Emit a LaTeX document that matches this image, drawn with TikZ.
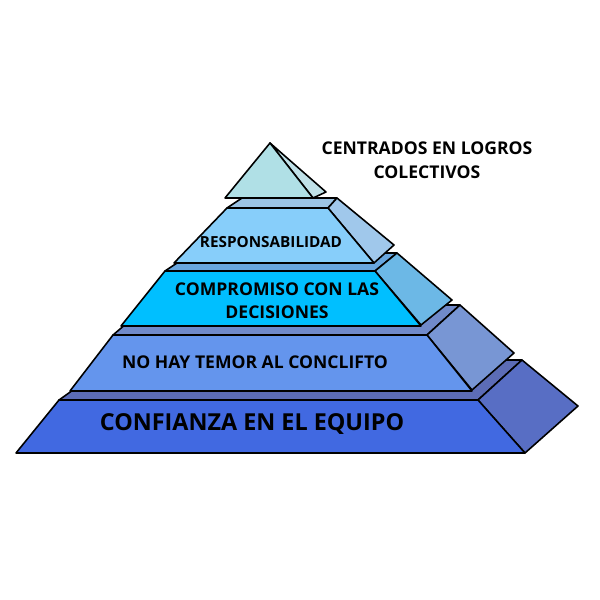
\documentclass[tikz,border=0pt]{standalone}
\usepackage{fontspec}
\setmainfont{Open Sans}
\definecolor{tierA}{RGB}{65,105,225}
\definecolor{tierAside}{RGB}{88,110,196}
\definecolor{tierAtop}{RGB}{92,108,182}
\definecolor{tierB}{RGB}{100,149,237}
\definecolor{tierBside}{RGB}{120,150,212}
\definecolor{tierBtop}{RGB}{112,138,202}
\definecolor{tierC}{RGB}{0,191,255}
\definecolor{tierCside}{RGB}{108,184,230}
\definecolor{tierCtop}{RGB}{104,166,222}
\definecolor{tierD}{RGB}{135,206,250}
\definecolor{tierDside}{RGB}{160,200,235}
\definecolor{tierDtop}{RGB}{156,196,228}
\definecolor{tierE}{RGB}{176,224,230}
\definecolor{tierEside}{RGB}{192,225,232}
\begin{document}
\begin{tikzpicture}[x=0.02cm,y=-0.02cm,line width=0.9pt,line join=round,
  face/.style={draw=black},
  lbl/.style={font=\bfseries,align=center,inner sep=0pt}]
\useasboundingbox (0,0) rectangle (600,600);
% base: confianza
\filldraw[face,fill=tierAtop] (59,400)--(478,400)--(522,360)--(115,360)--cycle;
\filldraw[face,fill=tierAside] (478,400)--(525,453)--(578,406)--(522,360)--cycle;
\filldraw[face,fill=tierA] (16,453)--(525,453)--(478,400)--(59,400)--cycle;
% second level: temor al conflicto
\filldraw[face,fill=tierBtop] (113,335)--(427,335)--(460,305)--(148,305)--cycle;
\filldraw[face,fill=tierBside] (427,335)--(472,390)--(514,353)--(460,305)--cycle;
\filldraw[face,fill=tierB] (70,391)--(472,391)--(427,335)--(113,335)--cycle;
% third level: compromiso
\filldraw[face,fill=tierCtop] (165,271)--(375,271)--(397,253)--(192,253)--cycle;
\filldraw[face,fill=tierCside] (375,271)--(421,325)--(452,300)--(397,253)--cycle;
\filldraw[face,fill=tierC] (121,326)--(421,326)--(375,271)--(165,271)--cycle;
% fourth level: responsabilidad
\filldraw[face,fill=tierDtop] (227,208)--(328,208)--(337,198)--(242,198)--cycle;
\filldraw[face,fill=tierDside] (328,208)--(374,263)--(394,245)--(337,198)--cycle;
\filldraw[face,fill=tierD] (174,263)--(374,263)--(328,208)--(227,208)--cycle;
% top: logros colectivos
\filldraw[face,fill=tierEside] (270,143)--(313,198)--(326,192)--cycle;
\filldraw[face,fill=tierE] (225,198)--(313,198)--(270,143)--cycle;
% labels
\node[lbl,font=\bfseries\fontsize{10}{13.6}\selectfont] (logros) at (427,160) {CENTRADOS EN LOGROS\\COLECTIVOS};
\node[lbl,font=\bfseries\fontsize{8.7}{10}\selectfont] (resp) at (271,242) {RESPONSABILIDAD};
\node[lbl,font=\bfseries\fontsize{10}{13}\selectfont] (compr) at (277,301) {COMPROMISO CON LAS\\DECISIONES};
\node[lbl,font=\bfseries\fontsize{10}{12}\selectfont] (temor) at (255,362) {NO HAY TEMOR AL CONCLIFTO};
\node[lbl,font=\bfseries\fontsize{13.3}{15}\selectfont] (confianza) at (252,424) {CONFIANZA EN EL EQUIPO};
\end{tikzpicture}
\end{document}
